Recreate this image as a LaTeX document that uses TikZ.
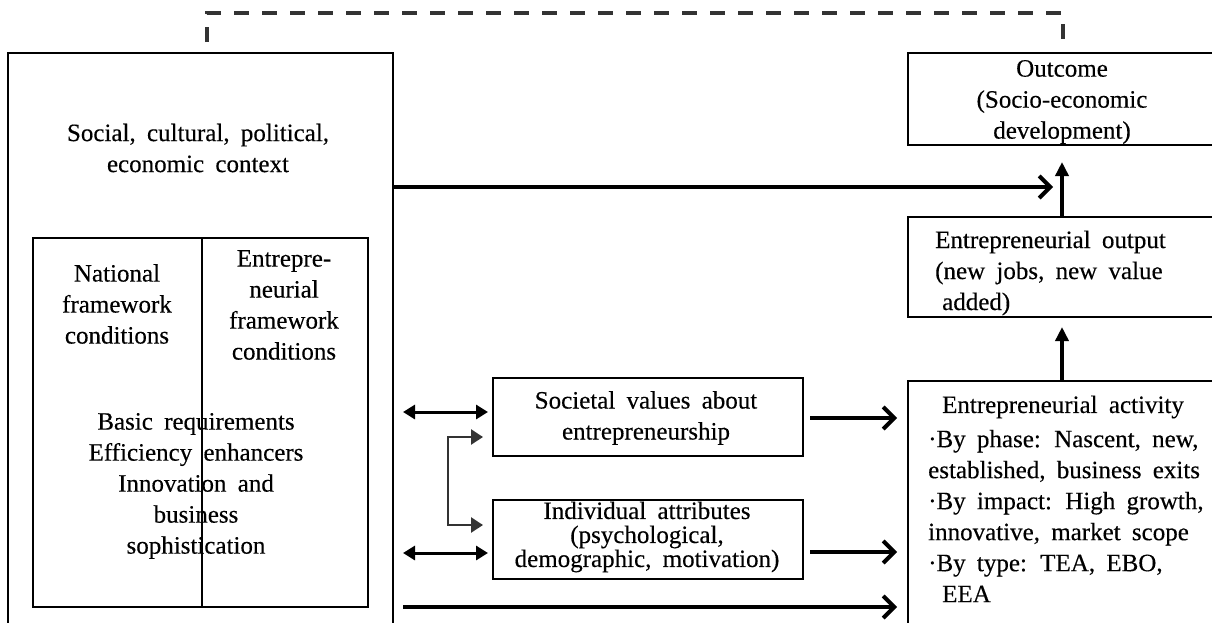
\documentclass[tikz,border=0pt]{standalone}
\usepackage{fontspec}
\setmainfont{Liberation Serif}[WordSpace=1.8,FakeBold=0.3]
\usetikzlibrary{arrows.meta,calc}
\tikzset{
  box/.style={draw, line width=1.6pt, inner sep=0pt, outer sep=0pt, anchor=north west},
  txt/.style={font=\fontsize{25pt}{31pt}\selectfont, align=center, inner sep=0pt, text=black},
  chev/.style={line width=4pt, -{Straight Barb[length=11pt,width=22pt]}},
  vert/.style={line width=4pt, -{Triangle[length=14pt,width=13pt]}},
  dbl/.style={line width=3pt, {Triangle[length=12pt,width=14pt]}-{Triangle[length=12pt,width=14pt]}},
  brk/.style={line width=2.5pt, draw=black!80, {Triangle[length=12pt,width=15pt]}-{Triangle[length=12pt,width=15pt]}},
  dsh/.style={line width=4pt, draw=black!80, dash pattern=on 15pt off 13pt},
}
\begin{document}
\begin{tikzpicture}[x=1pt,y=-1pt]
\useasboundingbox (0,0) rectangle (1212,622);
\clip (0,0) rectangle (1212,622);
% boxes
\node[box, minimum width=385pt, minimum height=577pt] (ctx) at (8,53) {};
\node[box, minimum width=169pt, minimum height=369pt] (nfc) at (33,238) {};
\node[box, minimum width=166pt, minimum height=369pt] (efc) at (202,238) {};
\node[box, minimum width=308pt, minimum height=92pt] (outc) at (908,53) {};
\node[box, minimum width=308pt, minimum height=100pt] (outp) at (908,217) {};
\node[box, minimum width=310pt, minimum height=78pt] (soc) at (493,378) {};
\node[box, minimum width=310pt, minimum height=79pt] (ind) at (493,500) {};
\node[box, minimum width=308pt, minimum height=260pt] (act) at (908,381) {};
% texts
\node[txt] (ctxt) at (198,148) {Social, cultural, political,\\economic context};
\node[txt] (nfct) at (117,304) {National\\framework\\conditions};
\node[txt] (efct) at (284,305) {Entrepre-\\neurial\\framework\\conditions};
\node[txt] (reqt) at (196,486) {Basic requirements\\Efficiency enhancers\\Innovation and\\business\\sophistication};
\node[txt] (outct) at (1062,102) {Outcome\\(Socio-economic\\development)};
\node[txt, align=left, anchor=west] (outpt) at (935,273) {Entrepreneurial output\\(new jobs, new value\\\hspace*{7pt}added)};
\node[txt] (soct) at (646,418) {Societal values about\\entrepreneurship};
\node[txt, font=\fontsize{25pt}{24pt}\selectfont] (indt) at (647,537) {Individual attributes\\(psychological,\\demographic, motivation)};
\node[txt] (actt) at (1063,407) {Entrepreneurial activity};
\node[txt, align=left, anchor=west] (actl) at (928,516) {·By phase: Nascent, new,\\established, business exits\\·By impact: High growth,\\innovative, market scope\\·By type: TEA, EBO,\\\hspace*{14pt}EEA};
% connectors
\coordinate (join) at (1053,187);
\coordinate (low) at (0,607);
\draw[dsh] ($(ctx.north)+(6.5,-11)$) -- ($(ctx.north)+(6.5,-40)$) -| ($(outc.north)+(1,-10)$);
\draw[chev] (ctx.east |- join) -- (join);
\draw[vert] (outp.north) -- ($(outc.south)+(0,17)$);
\draw[vert] (act.north) -- ($(outp.south)+(0,10)$);
\draw[dbl] ($(ctx.east |- soc.west)+(10,-5)$) -- ($(soc.west)+(-5,-5)$);
\draw[dbl] ($(ctx.east |- ind.west)+(10,13.5)$) -- ($(ind.west)+(-5,13.5)$);
\draw[brk] ($(soc.west)+(-10,20)$) -- ++(-35,0) |- ($(ind.west)+(-10,-14.5)$);
\draw[chev] ($(soc.east)+(7,1)$) -- ($(act.west |- soc.east)+(-11,1)$);
\draw[chev] ($(ind.east)+(7,12.5)$) -- ($(act.west |- ind.east)+(-11,12.5)$);
\draw[chev] ($(ctx.east |- low)+(10,0)$) -- ($(act.west |- low)+(-11,0)$);
\end{tikzpicture}
\end{document}
